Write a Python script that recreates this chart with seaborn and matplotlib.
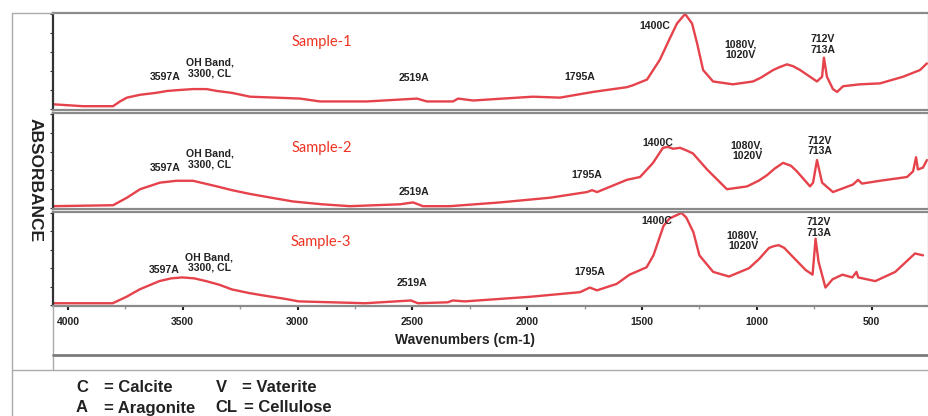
import matplotlib
matplotlib.use("Agg")
import matplotlib.pyplot as plt
from matplotlib.lines import Line2D
import seaborn as sns
import pandas as pd

# ---------------- data ----------------
S1_WN = [4065, 3935, 3805, 3775, 3745, 3688, 3620, 3571, 3520, 3459, 3400, 3355, 3290, 3212, 3100,
         2995, 2909, 2705, 2489, 2446, 2333, 2311, 2246, 1987, 1870, 1727, 1580, 1554, 1493, 1437,
         1393, 1363, 1328, 1298, 1276, 1250, 1207, 1121, 1034, 1000, 947, 920, 887, 860, 830,
         757, 735, 727, 714, 688, 670, 644, 571, 484, 384, 311, 281]
S1_ABS = [0.05, 0.03, 0.03, 0.08, 0.12, 0.15, 0.17, 0.19, 0.20, 0.21, 0.21, 0.19, 0.17, 0.13, 0.12,
          0.11, 0.08, 0.08, 0.11, 0.08, 0.08, 0.11, 0.09, 0.13, 0.12, 0.18, 0.23, 0.25, 0.31, 0.52,
          0.75, 0.90, 1.0, 0.90, 0.69, 0.41, 0.29, 0.26, 0.29, 0.33, 0.41, 0.44, 0.47, 0.45, 0.41,
          0.29, 0.34, 0.54, 0.34, 0.21, 0.18, 0.24, 0.26, 0.27, 0.34, 0.41, 0.48]

S2_WN = [4065, 3805, 3745, 3688, 3602, 3530, 3459, 3355, 3290, 3212, 3120, 3026, 2900, 2779, 2562,
         2506, 2463, 2346, 2129, 1913, 1753, 1731, 1709, 1580, 1523, 1467, 1424, 1402, 1380, 1350,
         1320, 1294, 1233, 1147, 1060, 1010, 973, 940, 904, 870, 844, 787, 774, 757, 735,
         688, 601, 579, 562, 484, 367, 341, 328, 320, 298, 281]
S2_ABS = [0.02, 0.03, 0.11, 0.20, 0.27, 0.29, 0.29, 0.23, 0.19, 0.15, 0.11, 0.07, 0.04, 0.02, 0.04,
          0.06, 0.02, 0.02, 0.06, 0.11, 0.17, 0.19, 0.17, 0.30, 0.33, 0.48, 0.64, 0.65, 0.63, 0.64,
          0.61, 0.58, 0.41, 0.20, 0.23, 0.29, 0.35, 0.42, 0.48, 0.45, 0.39, 0.23, 0.27, 0.51, 0.27,
          0.17, 0.25, 0.30, 0.26, 0.29, 0.33, 0.39, 0.54, 0.41, 0.43, 0.51]

S3_WN = [4065, 3805, 3745, 3688, 3650, 3602, 3550, 3502, 3450, 3398, 3340, 3286, 3210, 3138, 3060,
         2995, 2705, 2506, 2476, 2346, 2324, 2272, 1987, 1770, 1727, 1696, 1610, 1554, 1480, 1450,
         1406, 1380, 1328, 1307, 1276, 1250, 1190, 1121, 1034, 990, 947, 925, 904, 880, 861,
         787, 757, 744, 731, 701, 670, 627, 584, 566, 558, 484, 397, 311, 276]
S3_ABS = [0.02, 0.02, 0.09, 0.17, 0.21, 0.26, 0.29, 0.30, 0.29, 0.26, 0.22, 0.17, 0.13, 0.10, 0.07,
          0.04, 0.02, 0.05, 0.02, 0.03, 0.05, 0.04, 0.09, 0.14, 0.19, 0.16, 0.23, 0.33, 0.41, 0.54,
          0.86, 0.94, 1.0, 0.95, 0.79, 0.54, 0.36, 0.31, 0.40, 0.50, 0.62, 0.64, 0.65, 0.62, 0.57,
          0.38, 0.33, 0.72, 0.47, 0.19, 0.28, 0.33, 0.30, 0.36, 0.30, 0.26, 0.36, 0.56, 0.54]

SAMPLES = ["Sample-1", "Sample-2", "Sample-3"]
X_TICKS = [4000, 3500, 3000, 2500, 2000, 1500, 1000, 500]
PEAK_LABELS = ["3597A", "OH Band,\n3300, CL", "2519A", "1795A", "1400C", "1080V,\n1020V", "712V\n713A"]
LEGEND_SYMBOLS = ["C", "A", "V", "CL"]
LEGEND_NAMES = ["= Calcite", "= Aragonite", "= Vaterite", "= Cellulose"]

# label anchor positions per panel (wavenumber, fraction of panel height)
LABEL_POS = [
    [(3580, 0.34), (3385, 0.43), (2502, 0.33), (1783, 0.34), (1458, 0.87), (1090, 0.62), (731, 0.68)],
    [(3580, 0.43), (3385, 0.52), (2502, 0.17), (1753, 0.35), (1445, 0.69), (1060, 0.61), (744, 0.66)],
    [(3580, 0.38), (3385, 0.46), (2502, 0.24), (1727, 0.36), (1437, 0.91), (1060, 0.70), (731, 0.84)],
]
SAMPLE_POS = [(2900, 0.70), (2900, 0.64), (2900, 0.68)]

# ---------------- style ----------------
sns.set_theme(style="white")
plt.rcParams["font.family"] = ["Liberation Sans", "DejaVu Sans"]

W, H = 929, 416
fig = plt.figure(figsize=(W / 100, H / 100), dpi=100)
fig.patch.set_facecolor("white")

def fx(px):
    return px / W

def fy(py):
    return 1 - py / H

panel_px = [(13, 110), (113, 209), (212, 306)]
series = [(S1_WN, S1_ABS), (S2_WN, S2_ABS), (S3_WN, S3_ABS)]
LINE_COLOR = "#e5424b"

axes = []
for i, ((top, bot), (wn, ab)) in enumerate(zip(panel_px, series)):
    ax = fig.add_axes([fx(53), fy(bot), 1 - fx(53), (bot - top) / H])
    df = pd.DataFrame({"wn": wn, "abs": ab})
    sns.lineplot(data=df, x="wn", y="abs", ax=ax, color=LINE_COLOR, linewidth=1.7,
                 sort=False, estimator=None)
    ax.set_xlim(4065, 272)
    ax.set_ylim(-0.01, 1.01)
    ax.set_xlabel("")
    ax.set_ylabel("")
    ax.set_yticks([0.0, 0.2, 0.4, 0.6, 0.8, 1.0])
    ax.set_yticklabels([])
    ax.tick_params(axis="y", direction="out", length=2, width=0.8, color="#333333", left=True)
    for side in ["top", "bottom", "right"]:
        ax.spines[side].set_color("#8a8a8a")
        ax.spines[side].set_linewidth(1.6)
    ax.spines["left"].set_color("#333333")
    ax.spines["left"].set_linewidth(1.6)
    ax.set_facecolor("white")

    for (x, y), lab in zip(LABEL_POS[i], PEAK_LABELS):
        ax.text(x, y, lab, ha="center", va="center", fontsize=7.6, fontweight="bold",
                color="#222222", linespacing=1.05)
    sx, sy = SAMPLE_POS[i]
    ax.text(sx, sy, SAMPLES[i], ha="center", va="center", fontsize=10.5,
            color="#ee3322", family=["Lato", "DejaVu Sans"])

    if i < 2:
        ax.set_xticks(X_TICKS)
        ax.set_xticklabels([])
        ax.tick_params(axis="x", length=0)
    else:
        ax.set_xticks(X_TICKS)
        ax.set_xticklabels([str(t) for t in X_TICKS], fontsize=7.5, fontweight="bold", color="#222222")
        ax.set_xticks([3750, 3250, 2750, 2250, 1750, 1250, 750, 250], minor=True)
        ax.tick_params(axis="x", which="major", direction="out", length=3, width=1.5,
                       color="#222222", pad=5, bottom=True)
        ax.tick_params(axis="x", which="minor", direction="out", length=2, width=1,
                       color="#999999", bottom=True)
    axes.append(ax)

# axis titles
fig.text(fx(465), fy(340), "Wavenumbers (cm-1)", ha="center", va="center",
         fontsize=10, fontweight="bold", color="#222222")
fig.text(fx(35), fy(180), "ABSORBANCE", ha="center", va="center", rotation=-90,
         fontsize=12.5, fontweight="bold", color="#222222")

# frame lines
fig.add_artist(Line2D([fx(12), fx(12)], [0, fy(13)], color="#aaaaaa", lw=1))
fig.add_artist(Line2D([fx(12), fx(53)], [fy(13), fy(13)], color="#aaaaaa", lw=1))
fig.add_artist(Line2D([fx(53), fx(53)], [fy(370), fy(306)], color="#aaaaaa", lw=1))
fig.add_artist(Line2D([fx(53), 1], [fy(355), fy(355)], color="#7a7a7a", lw=2))
fig.add_artist(Line2D([fx(12), 1], [fy(370), fy(370)], color="#aaaaaa", lw=1))

# legend text
leg_rows = [fy(388), fy(408), fy(388), fy(408)]
sym_x = [fx(76), fx(76), fx(216), fx(215)]
name_x = [fx(104), fx(104), fx(242), fx(244)]
for s, n, y, xs, xn in zip(LEGEND_SYMBOLS, LEGEND_NAMES, leg_rows, sym_x, name_x):
    fig.text(xs, y, s, ha="left", va="center", fontsize=12, fontweight="bold", color="#222222")
    fig.text(xn, y, n, ha="left", va="center", fontsize=12, fontweight="bold", color="#222222")

fig.savefig("out.png", dpi=100, facecolor="white")
